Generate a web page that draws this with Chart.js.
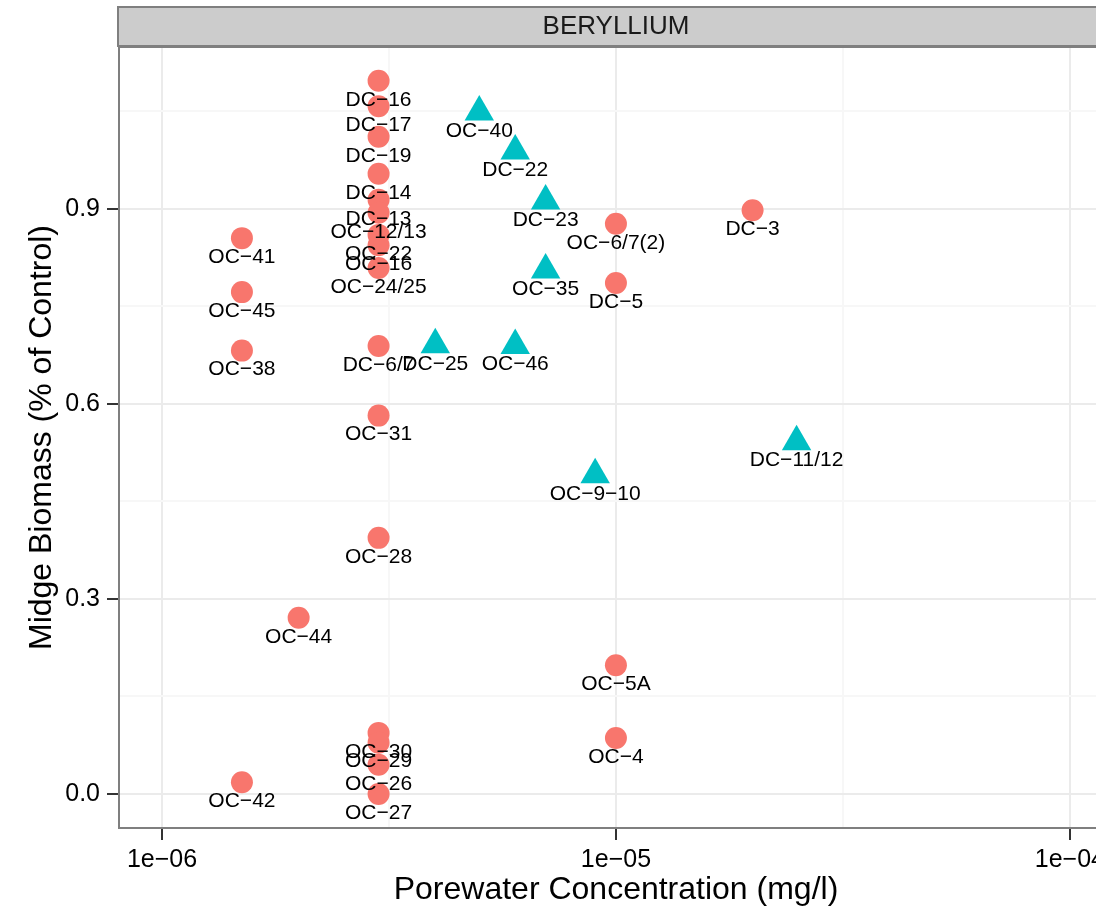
<!DOCTYPE html>
<html>
<head>
<meta charset="utf-8">
<title>Beryllium - Midge Biomass</title>
<script src="https://cdn.jsdelivr.net/npm/chart.js@4/dist/chart.umd.min.js"></script>
<style>
  html, body { margin: 0; padding: 0; background: #ffffff; overflow: hidden; }
  canvas { display: block; }
</style>
</head>
<body>
<canvas id="berylliumChart" width="1120" height="913"></canvas>
<script>
// Red circles (first group)
const circleConc = [3e-6, 3e-6, 3e-6, 3e-6, 3e-6, 3e-6, 3e-6, 3e-6, 3e-6, 3e-6, 3e-6, 3e-6, 3e-6, 3e-6, 3e-6, 3e-6,
                    1.5e-6, 1.5e-6, 1.5e-6, 1.5e-6, 2e-6, 1e-5, 1e-5, 1e-5, 1e-5, 2e-5];
const circleBiomass = [1.097, 1.058, 1.011, 0.954, 0.914, 0.894, 0.860, 0.844, 0.809, 0.689, 0.582, 0.394, 0.094, 0.079, 0.045, 0.0,
                       0.855, 0.772, 0.682, 0.018, 0.271, 0.877, 0.786, 0.198, 0.086, 0.898];
const circleLabels = ['DC−16', 'DC−17', 'DC−19', 'DC−14', 'DC−13', 'OC−12/13', 'OC−22', 'OC−16', 'OC−24/25', 'DC−6/7', 'OC−31', 'OC−28', 'OC−30', 'OC−29', 'OC−26', 'OC−27',
                      'OC−41', 'OC−45', 'OC−38', 'OC−42', 'OC−44', 'OC−6/7(2)', 'DC−5', 'OC−5A', 'OC−4', 'DC−3'];

// Cyan triangles (second group)
const triangleConc = [5e-6, 6e-6, 7e-6, 7e-6, 4e-6, 6e-6, 9e-6, 2.5e-5];
const triangleBiomass = [1.049, 0.989, 0.912, 0.806, 0.691, 0.690, 0.491, 0.542];
const triangleLabels = ['OC−40', 'DC−22', 'DC−23', 'OC−35', 'DC−25', 'OC−46', 'OC−9−10', 'DC−11/12'];

// Axis ticks and breaks
const xTickValues = [1e-6, 1e-5, 1e-4];
const xTickLabels = ['1e−06', '1e−05', '1e−04'];
const xMinorBreaks = [3.1623e-6, 3.1623e-5];
const yTickValues = [0, 0.3, 0.6, 0.9];
const yTickLabels = ['0.0', '0.3', '0.6', '0.9'];
const yMinorBreaks = [0.15, 0.45, 0.75, 1.05];

const panelTitle = 'BERYLLIUM';
const xTitle = 'Porewater Concentration (mg/l)';
const yTitle = 'Midge Biomass (% of Control)';

const fontFamily = "'Liberation Sans', Arial, Helvetica, sans-serif";
const colors = {
    circle: '#F8766D',
    triangle: '#00BFC4',
    gridMajor: '#EBEBEB',
    gridMinor: '#F7F7F7',
    border: '#7F7F7F',
    strip: '#CCCCCC',
    ticks: '#333333'
};

function isMajor(list, value) {
    return list.some(v => Math.abs(v - value) <= Math.abs(v) * 1e-6 + 1e-9);
}

// Facet strip, point labels and panel border
const facetPlugin = {
    id: 'facetPlugin',
    beforeDraw(chart) {
        const {ctx, chartArea} = chart;
        ctx.save();
        ctx.fillStyle = colors.strip;
        ctx.strokeStyle = colors.border;
        ctx.lineWidth = 2;
        ctx.fillRect(chartArea.left - 1, 7, chart.width, chartArea.top - 8);
        ctx.strokeRect(chartArea.left - 1, 7, chart.width, chartArea.top - 8);
        ctx.fillStyle = '#1A1A1A';
        ctx.font = '26px ' + fontFamily;
        ctx.textAlign = 'center';
        ctx.textBaseline = 'middle';
        ctx.fillText(panelTitle, (chartArea.left + chartArea.right) / 2, 27);
        ctx.restore();
    },
    afterDatasetsDraw(chart) {
        const {ctx} = chart;
        ctx.save();
        ctx.fillStyle = '#000000';
        ctx.font = '21px ' + fontFamily;
        ctx.textAlign = 'center';
        ctx.textBaseline = 'middle';
        chart.data.datasets.forEach((ds, i) => {
            const meta = chart.getDatasetMeta(i);
            meta.data.forEach((el, j) => {
                ctx.fillText(ds.pointLabels[j], el.x, el.y + 19);
            });
        });
        ctx.restore();
    },
    afterDraw(chart) {
        const {ctx, chartArea} = chart;
        ctx.save();
        ctx.strokeStyle = colors.border;
        ctx.lineWidth = 2;
        ctx.strokeRect(chartArea.left, chartArea.top, chartArea.right - chartArea.left, chartArea.bottom - chartArea.top);
        ctx.restore();
    }
};

const canvas = document.getElementById('berylliumChart');

new Chart(canvas, {
    type: 'scatter',
    data: {
        datasets: [
            {
                label: 'circles',
                data: circleConc.map((x, i) => ({x: x, y: circleBiomass[i]})),
                pointLabels: circleLabels,
                pointStyle: 'circle',
                pointRadius: 11,
                pointHoverRadius: 11,
                pointBorderWidth: 0,
                backgroundColor: colors.circle,
                borderColor: colors.circle
            },
            {
                label: 'triangles',
                data: triangleConc.map((x, i) => ({x: x, y: triangleBiomass[i]})),
                pointLabels: triangleLabels,
                pointStyle: 'triangle',
                pointRadius: 17,
                pointHoverRadius: 17,
                pointBorderWidth: 0,
                backgroundColor: colors.triangle,
                borderColor: colors.triangle
            }
        ]
    },
    options: {
        responsive: false,
        animation: false,
        events: [],
        layout: {
            autoPadding: false, // point radius must not shrink the panel
            padding: {top: 47, right: 7, left: 0, bottom: 0}
        },
        plugins: {
            legend: {display: false},
            tooltip: {enabled: false}
        },
        scales: {
            x: {
                type: 'logarithmic',
                position: 'bottom',
                min: Math.pow(10, -6.0947),
                max: Math.pow(10, -3.905),
                afterBuildTicks(scale) {
                    scale.ticks = xTickValues.concat(xMinorBreaks).sort((a, b) => a - b).map(v => ({value: v}));
                },
                afterFit(scale) {
                    scale.height = 85;
                },
                border: {display: false},
                grid: {
                    color: ctx => isMajor(xTickValues, ctx.tick.value) ? colors.gridMajor : colors.gridMinor,
                    lineWidth: 2,
                    drawTicks: true,
                    tickLength: 12,
                    tickWidth: 2,
                    tickColor: ctx => isMajor(xTickValues, ctx.tick.value) ? colors.ticks : 'rgba(0,0,0,0)'
                },
                ticks: {
                    autoSkip: false,
                    maxRotation: 0,
                    padding: 5,
                    color: '#000000',
                    font: {family: fontFamily, size: 25},
                    callback: function (value) {
                        const idx = xTickValues.findIndex(v => Math.abs(v - value) <= v * 1e-6);
                        return idx >= 0 ? xTickLabels[idx] : '';
                    }
                },
                title: {
                    display: true,
                    text: xTitle,
                    color: '#000000',
                    font: {family: fontFamily, size: 32},
                    padding: {top: 0, bottom: 4}
                }
            },
            y: {
                type: 'linear',
                position: 'left',
                min: -0.0523,
                max: 1.149,
                afterBuildTicks(scale) {
                    scale.ticks = yTickValues.concat(yMinorBreaks).sort((a, b) => a - b).map(v => ({value: v}));
                },
                afterFit(scale) {
                    scale.width = 119;
                },
                border: {display: false},
                grid: {
                    color: ctx => isMajor(yTickValues, ctx.tick.value) ? colors.gridMajor : colors.gridMinor,
                    lineWidth: 2,
                    drawTicks: true,
                    tickLength: 12,
                    tickWidth: 2,
                    tickColor: ctx => isMajor(yTickValues, ctx.tick.value) ? colors.ticks : 'rgba(0,0,0,0)'
                },
                ticks: {
                    autoSkip: false,
                    padding: 7,
                    color: '#000000',
                    font: {family: fontFamily, size: 25},
                    callback: function (value) {
                        const idx = yTickValues.findIndex(v => Math.abs(v - value) < 1e-6);
                        return idx >= 0 ? yTickLabels[idx] : '';
                    }
                },
                title: {
                    display: true,
                    text: yTitle,
                    color: '#000000',
                    font: {family: fontFamily, size: 32},
                    padding: {top: 23, bottom: 0}
                }
            }
        }
    },
    plugins: [facetPlugin]
});
</script>
</body>
</html>
